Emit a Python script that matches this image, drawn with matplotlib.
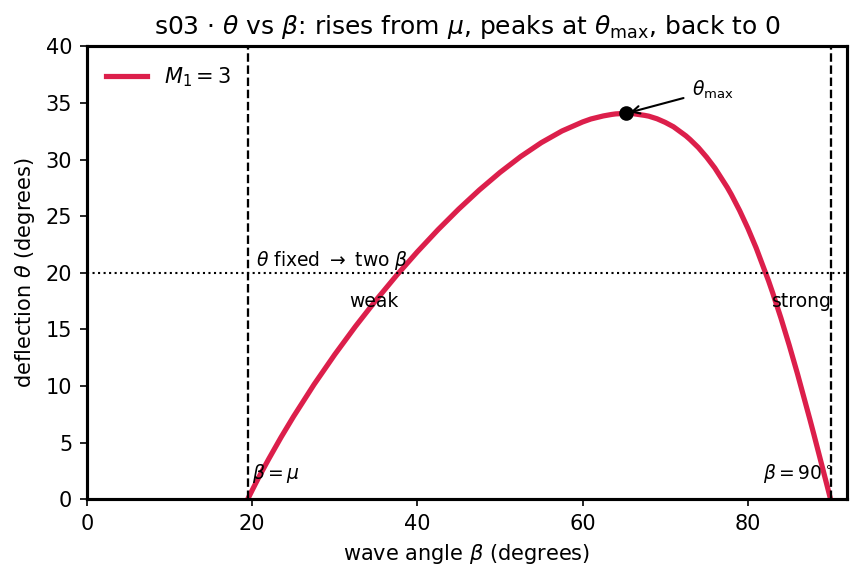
import numpy as np
import matplotlib.pyplot as plt

# theta-beta-M curve, M1 = 3
beta = [19.47, 20, 20.5, 21, 22, 23.5, 25, 27.5, 30, 32.5, 35, 37.5, 40, 42.5, 45, 47.5, 50, 52.5,
        55, 57.5, 60, 61, 62.5, 63.5, 64, 65, 65.24, 66, 67.5, 68, 69, 70, 71, 72.5, 73, 74, 75,
        76, 77.5, 78, 79, 80, 81, 82.5, 83, 84, 85, 86, 87.5, 88, 89, 89.5, 90]
theta = [0.0, 0.77, 1.49, 2.19, 3.53, 5.46, 7.28, 10.13, 12.77, 15.25, 17.58, 19.78, 21.85, 23.80, 25.62, 27.31, 28.86, 30.26,
         31.49, 32.52, 33.32, 33.58, 33.85, 33.98, 34.03, 34.07, 34.07, 34.06, 33.90, 33.83, 33.60, 33.28, 32.89, 32.09, 31.77, 31.06, 30.21,
         29.25, 27.54, 26.90, 25.49, 23.92, 22.19, 19.28, 18.22, 15.99, 13.60, 11.07, 7.05, 5.67, 2.85, 1.43, 0.0]
mu = 19.47
beta_peak = 65.24
theta_peak = 34.07
theta_fixed = 20

fig, ax = plt.subplots(figsize=(5.733, 3.86), dpi=150)

ax.plot(beta, theta, color="#dc1f4b", lw=2.5, label=r"$M_1 = 3$")
ax.plot(beta_peak, theta_peak, "o", color="black", ms=6, zorder=5)
ax.annotate(r"$\theta_{\max}$", xy=(beta_peak, theta_peak), xytext=(73.2, 35.6),
            fontsize=9, arrowprops=dict(arrowstyle="->", color="black", lw=1))

ax.axvline(mu, color="black", ls="--", lw=1.1)
ax.axvline(90, color="black", ls="--", lw=1.1)
ax.axhline(theta_fixed, color="black", ls=":", lw=1)

ax.text(20.5, 20.6, r"$\theta$ fixed $\rightarrow$ two $\beta$", fontsize=9)
ax.text(34.7, 17.5, "weak", fontsize=9, ha="center", va="center")
ax.text(86.5, 17.5, "strong", fontsize=9, ha="center", va="center")
ax.text(20.0, 2.3, r"$\beta = \mu$", fontsize=9, va="center")
ax.text(90.3, 2.3, r"$\beta = 90^\circ$", fontsize=9, ha="right", va="center")

ax.set_xlim(0, 92)
ax.set_ylim(0, 40)
ax.set_xlabel(r"wave angle $\beta$ (degrees)")
ax.set_ylabel(r"deflection $\theta$ (degrees)")
ax.set_title(r"s03 · $\theta$ vs $\beta$: rises from $\mu$, peaks at $\theta_{\max}$, back to 0")
for s in ax.spines.values():
    s.set_linewidth(1.5)
ax.legend(loc="upper left", frameon=False, handlelength=2.0)

fig.subplots_adjust(left=0.101, right=0.985, top=0.92, bottom=0.138)
plt.savefig("out.png")
